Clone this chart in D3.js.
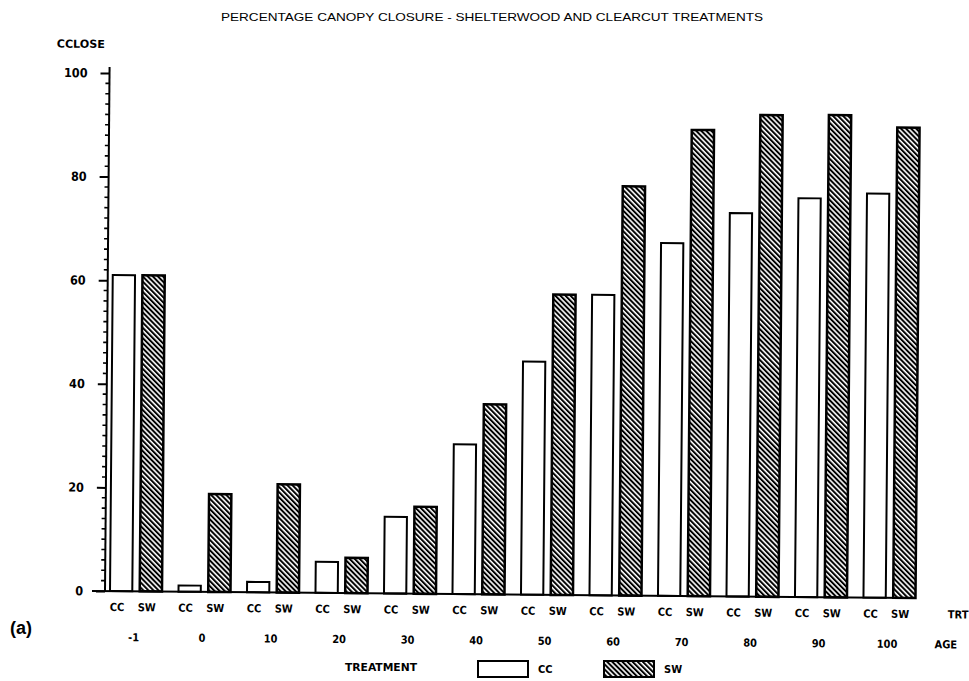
<!DOCTYPE html>
<html><head><meta charset="utf-8">
<script src="https://cdn.jsdelivr.net/npm/d3@7/dist/d3.min.js"></script>
<style>
body{margin:0;background:#fff;}
.bm{font-family:"DejaVu Sans Condensed","Liberation Sans Narrow","DejaVu Sans",sans-serif;font-weight:bold;font-size:11px;fill:#000;}
</style>
</head><body>
<svg id="chart" width="969" height="681"></svg>
<script>
const title = "PERCENTAGE CANOPY CLOSURE - SHELTERWOOD AND CLEARCUT TREATMENTS";
const ages = ["-1","0","10","20","30","40","50","60","70","80","90","100"];
const treatments = ["CC","SW"];
const ccValues = [61, 1.2, 2.0, 6.0, 14.8, 28.9, 45.0, 58.0, 68.1, 74.0, 77.0, 78.0];
const swValues = [61, 18.9, 20.9, 6.8, 16.8, 36.7, 58.0, 79.0, 90.0, 93.0, 93.1, 90.8];
const yTicks = [0, 20, 40, 60, 80, 100];
const yLabel = "CCLOSE";

const svg = d3.select("#chart");
const defs = svg.append("defs");
const pat = defs.append("pattern").attr("id","hatch").attr("patternUnits","userSpaceOnUse")
  .attr("width",3.6).attr("height",3.6).attr("patternTransform","rotate(-45)");
pat.append("rect").attr("width",3.6).attr("height",3.6).attr("fill","#fff");
pat.append("rect").attr("width",2).attr("height",3.6).attr("fill","#000");

// title
svg.append("text").attr("x",221).attr("y",21).attr("textLength",542).attr("lengthAdjust","spacingAndGlyphs")
  .style("font-family","'Liberation Sans',Arial,sans-serif").style("font-size","11.5px").text(title);

const x0 = 105, y0 = 591;
const g = svg.append("g").attr("transform",`rotate(0.5,${x0},${y0})`);

const y = d3.scaleLinear().domain([0,100]).range([y0, 73]);
const xg = d3.scaleBand().domain(ages).range([101.75, 923.75]);
const xi = d3.scaleBand().domain(treatments).range([-26, 26]).paddingInner(0.25);

// y label
g.append("text").attr("class","bm").attr("x",52).attr("y",48).attr("textLength",48)
  .attr("lengthAdjust","spacingAndGlyphs").text(yLabel);

// y axis
const yAxis = d3.axisLeft(y).tickValues(yTicks).tickSize(9).tickPadding(13).tickFormat(d3.format("d"));
const ya = g.append("g").attr("transform",`translate(${x0},0)`).call(yAxis);
ya.select(".domain").remove();
ya.selectAll(".tick line").attr("stroke","#000").attr("stroke-width",2);
ya.selectAll(".tick text").attr("class","bm").style("font-size","12.5px");
// minor ticks
const minor = d3.range(0, 101, 2).filter(v => v % 20 !== 0);
g.append("g").selectAll("line").data(minor).join("line")
  .attr("x1",x0-4).attr("x2",x0).attr("y1",d=>y(d)).attr("y2",d=>y(d))
  .attr("stroke","#000").attr("stroke-width",1.6);
g.append("line").attr("x1",x0).attr("x2",x0).attr("y1",y0).attr("y2",y(100)-6)
  .attr("stroke","#000").attr("stroke-width",2);

// bars
const rows = [];
ages.forEach((a,i)=>{
  rows.push({age:a, t:"CC", v:ccValues[i]});
  rows.push({age:a, t:"SW", v:swValues[i]});
});
g.append("g").selectAll("rect").data(rows).join("rect")
  .attr("x", d => xg(d.age) + xg.bandwidth()/2 + xi(d.t))
  .attr("width", xi.bandwidth())
  .attr("y", d => y(d.v))
  .attr("height", d => y0 - y(d.v))
  .attr("fill", d => d.t === "SW" ? "url(#hatch)" : "#fff")
  .attr("stroke","#000").attr("stroke-width", d => d.t === "SW" ? 2.5 : 2);

// x baseline
g.append("line").attr("x1",92).attr("x2",912).attr("y1",y0).attr("y2",y0)
  .attr("stroke","#000").attr("stroke-width",2);

// treatment labels
g.append("g").selectAll("text").data(rows).join("text").attr("class","bm")
  .attr("x", d => xg(d.age) + xg.bandwidth()/2 + xi(d.t) + xi.bandwidth()/2 - 4)
  .attr("y", 611).attr("text-anchor","middle").text(d => d.t);
// age labels
g.append("g").selectAll("text").data(ages).join("text").attr("class","bm")
  .attr("x", d => xg(d) + xg.bandwidth()/2 - 2).attr("y", 641).attr("text-anchor","middle")
  .text(d => d);
g.append("text").attr("class","bm").attr("x",948).attr("y",611).text("TRT");
g.append("text").attr("class","bm").attr("x",935).attr("y",641).text("AGE");

// (a)
svg.append("text").attr("x",10).attr("y",634)
  .style("font-family","'Liberation Sans',Arial,sans-serif").style("font-size","18px").style("font-weight","bold").text("(a)");

// legend
const leg = svg.append("g");
leg.append("text").attr("class","bm").attr("x",345).attr("y",671).attr("textLength",72)
  .attr("lengthAdjust","spacingAndGlyphs").text("TREATMENT");
const legItems = [{t:"CC", x:478},{t:"SW", x:604}];
leg.selectAll("rect").data(legItems).join("rect")
  .attr("x", d=>d.x).attr("y",661).attr("width",50).attr("height",16)
  .attr("fill", d => d.t === "SW" ? "url(#hatch)" : "#fff")
  .attr("stroke","#000").attr("stroke-width",2);
leg.selectAll("text.li").data(legItems).join("text").attr("class","bm li")
  .attr("x", d=>d.x+60).attr("y",673).text(d=>d.t);
</script>
</body></html>
